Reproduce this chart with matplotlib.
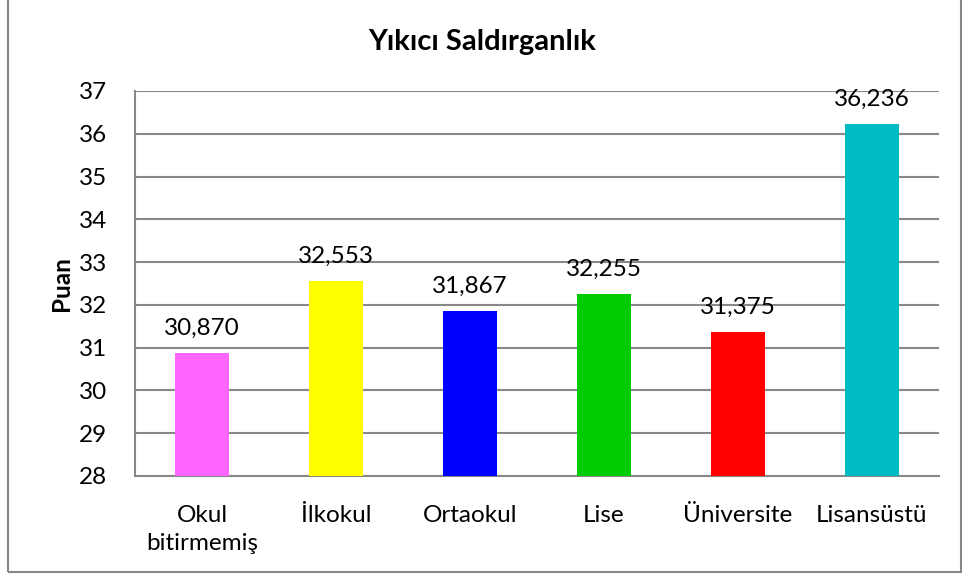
import matplotlib.pyplot as plt
from matplotlib.patches import Rectangle

plt.rcParams["font.family"] = ["Lato", "DejaVu Sans"]

categories = ["Okul\nbitirmemiş", "İlkokul", "Ortaokul", "Lise", "Üniversite", "Lisansüstü"]
values = [30.870, 32.553, 31.867, 32.255, 31.375, 36.236]
colors = ["#FF66FF", "#FFFF00", "#0000FF", "#00CC00", "#FF0000", "#00BBC4"]
yticks = list(range(28, 38))

fig = plt.figure(figsize=(9.64, 5.76), dpi=100)
ax = fig.add_axes([135 / 964, 1 - 476 / 576, 804 / 964, 385 / 576])

x = range(len(categories))
ax.bar(x, [v - 28 for v in values], bottom=28, width=0.4, color=colors, zorder=3)
for i, v in zip(x, values):
    ax.text(i, v + 0.33, f"{v:.3f}".replace(".", ","), ha="center", va="bottom",
            fontsize=17.5, zorder=4)

ax.set_xlim(-0.5, len(categories) - 0.5)
ax.set_ylim(28, 37)
ax.set_yticks(yticks)
ax.set_xticks(list(x))
ax.set_xticklabels(categories, fontsize=17.5, linespacing=1.4)
ax.tick_params(axis="y", labelsize=17.5, length=0, pad=20)
ax.tick_params(axis="x", length=0, pad=21)
ax.yaxis.grid(True, color="#888888", linewidth=1.5, zorder=0)
for side in ["top", "right"]:
    ax.spines[side].set_visible(False)
for side in ["left", "bottom"]:
    ax.spines[side].set_color("#888888")
    ax.spines[side].set_linewidth(1.5)

ax.set_ylabel("Puan", fontsize=17.5, fontweight="bold", labelpad=4)
fig.text(0.5, 1 - 42 / 576, "Yıkıcı Saldırganlık", ha="center", va="center",
         fontsize=21, fontweight="bold")

# outer chart border
fig.patches.append(Rectangle((8 / 964, 4 / 576), 953 / 964, 1.1, transform=fig.transFigure,
                             fill=False, edgecolor="#888888", linewidth=1.5))

fig.savefig("out.png", dpi=100)
